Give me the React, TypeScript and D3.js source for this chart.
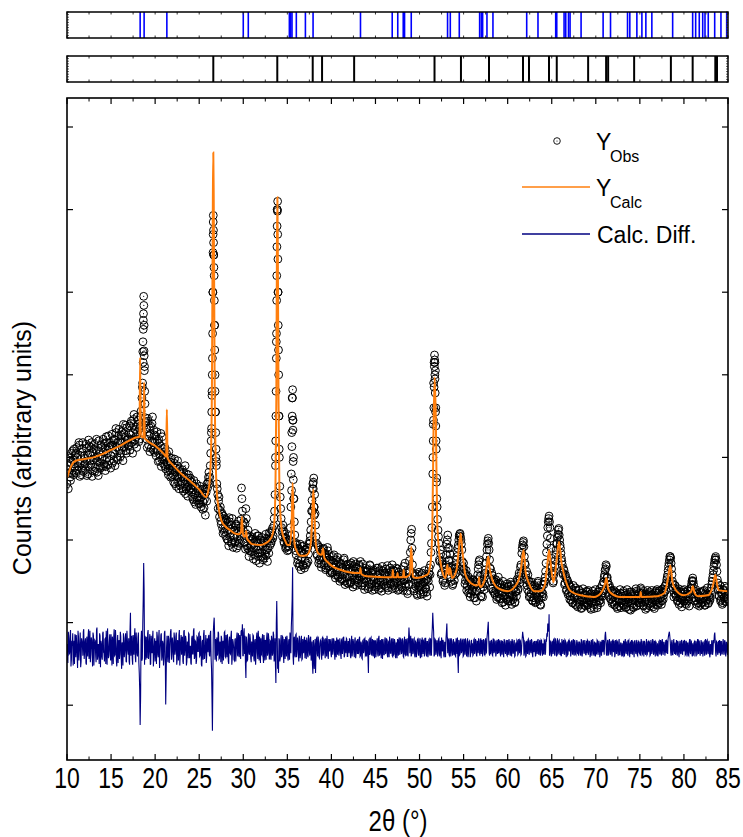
import React from "react";
import * as d3 from "d3";

// ---------------- DATA ----------------
const X_MIN = 10;
const X_MAX = 85;
const xTickValues = [10, 15, 20, 25, 30, 35, 40, 45, 50, 55, 60, 65, 70, 75, 80, 85];
const xTickLabels = ["10", "15", "20", "25", "30", "35", "40", "45", "50", "55", "60", "65", "70", "75", "80", "85"];
const yTickValues = [0, 100, 200, 300, 400, 500, 600, 700];

// Observed intensities on a uniform 2θ grid (start 10°, step 0.1°)
const OBS_START = 10;
const OBS_STEP = 0.1;
const obsY = [
  268, 290, 281, 299, 272, 305, 284, 297, 310, 288,
  281, 312, 300, 289, 315, 293, 279, 306, 318, 290,
  302, 285, 311, 296, 280, 314, 305, 291, 318, 284,
  297, 316, 288, 309, 282, 301, 320, 294, 287, 312,
  300, 322, 292, 311, 289, 318, 305, 326, 296, 313,
  302, 328, 315, 296, 321, 309, 330, 300, 318, 334,
  320, 305, 331, 318, 340, 312, 325, 308, 336, 322,
  315, 338, 327, 344, 318, 330, 352, 321, 337, 312,
  331, 345, 322, 338, 356, 372, 428, 495, 410, 348,
  335, 312, 344, 326, 307, 338, 320, 349, 309, 327,
  318, 302, 331, 309, 322, 296, 314, 289, 325, 300,
  297, 312, 286, 305, 291, 279, 300, 284, 294, 277,
  289, 270, 298, 282, 265, 290, 276, 262, 286, 271,
  268, 285, 259, 276, 290, 262, 271, 253, 279, 266,
  275, 258, 266, 249, 272, 255, 243, 268, 251, 259,
  248, 265, 240, 256, 237, 262, 249, 230, 258, 268,
  270, 282, 276, 305, 335, 420, 593, 520, 380, 300,
  268, 255, 247, 228, 240, 219, 231, 208, 226, 214,
  205, 224, 211, 199, 227, 208, 218, 196, 215, 203,
  212, 198, 217, 204, 193, 210, 200, 215, 263, 235,
  212, 196, 220, 238, 207, 190, 203, 187, 199, 192,
  186, 201, 190, 182, 198, 188, 205, 180, 193, 184,
  200, 185, 193, 178, 197, 188, 181, 202, 190, 184,
  193, 208, 199, 214, 205, 226, 255, 350, 520, 610,
  430, 300, 252, 226, 210, 218, 198, 207, 190, 201,
  187, 199, 192, 205, 240, 330, 382, 300, 222, 195,
  182, 194, 176, 189, 171, 185, 178, 192, 169, 183,
  175, 188, 172, 190, 183, 196, 205, 222, 248, 268,
  275, 255, 218, 196, 181, 192, 176, 188, 171, 185,
  178, 190, 172, 184, 166, 179, 187, 168, 176, 163,
  175, 160, 172, 182, 158, 170, 164, 179, 155, 168,
  158, 171, 153, 166, 176, 150, 162, 169, 148, 165,
  155, 170, 149, 163, 158, 174, 146, 160, 167, 152,
  165, 151, 168, 174, 156, 148, 163, 157, 144, 161,
  150, 164, 158, 143, 169, 152, 147, 162, 155, 140,
  161, 148, 157, 166, 145, 159, 150, 138, 163, 152,
  146, 158, 165, 150, 142, 160, 153, 147, 163, 170,
  157, 145, 151, 162, 149, 165, 155, 140, 158, 150,
  143, 156, 168, 151, 147, 160, 138, 153, 146, 162,
  200, 213, 170, 152, 141, 157, 148, 135, 150, 144,
  139, 152, 146, 160, 135, 149, 156, 142, 137, 153,
  150, 166, 158, 185, 215, 280, 390, 424, 405, 310,
  240, 212, 196, 174, 183, 160, 171, 152, 166, 148,
  170, 195, 206, 175, 190, 168, 150, 161, 147, 165,
  158, 170, 176, 185, 194, 205, 208, 200, 188, 168,
  172, 160, 151, 163, 145, 156, 140, 153, 135, 149,
  138, 152, 144, 130, 147, 139, 158, 170, 176, 141,
  132, 150, 143, 158, 147, 164, 180, 195, 202, 188,
  166, 150, 160, 141, 153, 136, 149, 139, 131, 147,
  135, 148, 129, 142, 137, 125, 144, 133, 140, 128,
  143, 131, 136, 126, 146, 134, 128, 141, 124, 137,
  132, 150, 141, 160, 152, 170, 184, 194, 199, 180,
  170, 152, 145, 158, 137, 149, 131, 145, 127, 138,
  130, 143, 125, 136, 148, 129, 134, 122, 141, 132,
  135, 146, 150, 162, 185, 205, 222, 229, 215, 190,
  168, 158, 150, 162, 175, 188, 196, 207, 214, 200,
  190, 178, 170, 158, 163, 148, 155, 140, 150, 136,
  145, 132, 127, 140, 124, 135, 130, 142, 121, 133,
  128, 139, 125, 131, 118, 136, 127, 121, 134, 124,
  137, 122, 130, 126, 118, 135, 124, 129, 117, 132,
  125, 134, 121, 130, 138, 127, 133, 145, 136, 149,
  158, 165, 168, 155, 146, 134, 142, 128, 139, 125,
  131, 122, 137, 126, 119, 133, 128, 120, 135, 124,
  127, 136, 121, 130, 118, 134, 125, 131, 116, 129,
  135, 122, 128, 119, 133, 126, 138, 121, 130, 124,
  130, 142, 128, 136, 120, 133, 125, 131, 118, 134,
  126, 137, 123, 129, 134, 119, 131, 127, 138, 122,
  128, 136, 124, 139, 130, 126, 141, 133, 137, 145,
  148, 155, 163, 172, 180, 178, 165, 150, 142, 136,
  145, 132, 138, 127, 141, 130, 124, 136, 128, 131,
  126, 137, 129, 122, 135, 131, 120, 138, 142, 150,
  154, 146, 130, 138, 127, 135, 124, 131, 128, 122,
  136, 125, 130, 139, 121, 133, 127, 135, 124, 131,
  130, 142, 150, 158, 168, 176, 180, 170, 152, 140,
  132, 145, 128, 137, 124, 140, 131, 126, 142, 129,
  135,
];

// Observed intensities at the half-step positions (10.05°, 10.15°, ...)
const obsY2 = [
  285, 262, 301, 276, 294, 281, 308, 279, 292, 303,
  305, 284, 293, 318, 277, 302, 287, 311, 283, 299,
  292, 316, 278, 303, 321, 289, 296, 312, 277, 306,
  310, 283, 299, 322, 295, 278, 308, 289, 315, 298,
  289, 306, 317, 284, 325, 299, 291, 312, 318, 287,
  315, 293, 306, 322, 290, 335, 312, 297, 326, 308,
  301, 327, 312, 296, 329, 318, 339, 305, 321, 314,
  329, 309, 341, 322, 305, 346, 316, 334, 325, 349,
  340, 319, 335, 350, 330, 385, 455, 460, 365, 342,
  322, 347, 315, 336, 328, 311, 341, 318, 333, 306,
  326, 308, 320, 295, 317, 303, 329, 298, 311, 292,
  306, 289, 301, 294, 283, 307, 290, 276, 299, 285,
  279, 293, 268, 287, 277, 296, 270, 283, 266, 280,
  277, 262, 282, 268, 256, 280, 264, 275, 260, 272,
  263, 270, 252, 261, 246, 265, 257, 248, 262, 244,
  257, 244, 252, 261, 246, 239, 255, 262, 247, 263,
  276, 268, 290, 320, 375, 500, 545, 460, 355, 290,
  262, 238, 252, 236, 223, 233, 214, 229, 210, 222,
  225, 201, 217, 193, 222, 204, 198, 226, 191, 212,
  197, 219, 190, 211, 223, 196, 207, 225, 250, 218,
  222, 198, 189, 226, 193, 212, 180, 205, 186, 201,
  203, 177, 196, 208, 175, 199, 184, 205, 172, 196,
  180, 203, 176, 199, 183, 207, 188, 174, 201, 209,
  201, 196, 211, 202, 217, 235, 300, 440, 600, 500,
  350, 265, 238, 215, 204, 211, 196, 203, 192, 198,
  193, 188, 200, 215, 280, 372, 345, 250, 206, 187,
  196, 172, 190, 168, 195, 164, 186, 170, 193, 166,
  188, 170, 190, 174, 195, 199, 212, 235, 262, 270,
  240, 232, 204, 183, 194, 172, 191, 178, 167, 186,
  189, 170, 183, 164, 178, 191, 169, 181, 160, 175,
  161, 180, 166, 172, 154, 176, 162, 157, 173, 150,
  172, 152, 167, 158, 178, 146, 165, 155, 171, 147,
  166, 148, 172, 156, 143, 168, 153, 171, 145, 159,
  148, 170, 155, 162, 145, 171, 152, 140, 166, 154,
  162, 141, 156, 170, 146, 160, 139, 164, 151, 145,
  143, 166, 151, 140, 163, 154, 142, 168, 149, 158,
  160, 144, 152, 169, 139, 156, 166, 146, 159, 141,
  163, 148, 142, 166, 153, 139, 161, 150, 145, 164,
  158, 139, 151, 172, 144, 162, 135, 155, 175, 185,
  208, 190, 160, 138, 156, 144, 159, 133, 148, 161,
  145, 134, 158, 147, 137, 163, 141, 152, 132, 156,
  159, 143, 170, 196, 240, 340, 415, 415, 360, 275,
  225, 204, 176, 188, 158, 174, 150, 167, 145, 162,
  182, 200, 190, 176, 183, 155, 166, 145, 160, 151,
  166, 160, 180, 190, 200, 207, 204, 195, 174, 162,
  165, 147, 159, 139, 152, 136, 150, 131, 146, 140,
  151, 130, 149, 137, 126, 152, 165, 174, 156, 132,
  147, 131, 152, 140, 160, 172, 188, 199, 196, 176,
  165, 141, 157, 138, 150, 134, 152, 128, 144, 155,
  129, 146, 138, 124, 150, 132, 143, 121, 139, 147,
  126, 144, 133, 149, 122, 140, 131, 146, 125, 138,
  152, 139, 156, 148, 167, 160, 190, 197, 192, 172,
  158, 162, 140, 151, 131, 146, 135, 149, 126, 141,
  145, 124, 139, 131, 150, 127, 142, 121, 137, 146,
  131, 150, 155, 172, 195, 215, 226, 222, 202, 178,
  162, 148, 158, 168, 182, 195, 203, 212, 206, 194,
  184, 174, 160, 165, 146, 158, 139, 152, 134, 147,
  128, 143, 136, 124, 145, 131, 122, 139, 133, 119,
  140, 122, 136, 117, 130, 141, 125, 133, 120, 138,
  121, 139, 127, 134, 116, 131, 138, 122, 129, 140,
  131, 118, 137, 126, 141, 124, 138, 132, 149, 155,
  163, 170, 154, 150, 132, 145, 129, 138, 123, 136,
  139, 121, 130, 136, 117, 134, 126, 140, 118, 132,
  122, 138, 127, 133, 119, 140, 124, 129, 137, 115,
  137, 126, 118, 135, 129, 141, 120, 132, 127, 136,
  124, 140, 135, 121, 138, 127, 116, 133, 139, 122,
  135, 120, 133, 139, 124, 130, 117, 136, 125, 140,
  121, 138, 129, 134, 122, 140, 128, 137, 144, 139,
  152, 158, 168, 176, 180, 172, 158, 147, 131, 145,
  134, 140, 126, 135, 122, 137, 129, 119, 139, 126,
  140, 123, 132, 126, 139, 127, 134, 141, 146, 151,
  150, 138, 126, 140, 122, 135, 130, 120, 137, 128,
  124, 138, 129, 121, 136, 127, 142, 123, 133, 127,
  138, 146, 154, 163, 172, 178, 176, 162, 148, 133,
  141, 126, 135, 122, 139, 130, 144, 125, 133, 128,
];

// Extra observed points measured more finely across the strong reflections
const obsPeakX = [
  18.58, 18.62, 18.64, 18.66, 18.68, 18.72, 18.74, 18.76, 18.78, 18.82,
  26.38, 26.42, 26.45, 26.48, 26.52, 26.55, 26.57, 26.58, 26.59, 26.62, 26.63, 26.65, 26.67, 26.72, 26.75, 26.77, 26.8, 26.85, 26.88, 26.92, 26.95,
  33.65, 33.68, 33.72, 33.75, 33.77, 33.79, 33.82, 33.84, 33.86, 33.88, 33.91, 33.93, 33.95, 33.97, 34.02, 34.05, 34.08,
  35.48, 35.52, 35.55, 35.58, 35.62, 35.64, 35.66, 35.68, 35.72,
  37.85, 37.95, 38.02, 38.05,
  51.52, 51.55, 51.58, 51.62, 51.65, 51.68, 51.72, 51.74, 51.76, 51.78, 51.82, 51.85, 51.88, 51.93, 51.96,
];
const obsPeakY = [
  390, 440, 415, 466, 474, 484, 429, 423, 405, 380,
  330, 355, 380, 400, 450, 500, 548, 570, 585, 575, 560, 545, 530, 490, 460, 430, 400, 355, 330, 310, 295,
  290, 320, 380, 420, 450, 490, 555, 580, 600, 598, 570, 540, 500, 460, 400, 350, 310,
  260, 313, 350, 372, 345, 333, 295, 273, 250,
  235, 262, 240, 230,
  300, 320, 345, 360, 385, 410, 418, 400, 395, 378, 355, 338, 320, 270, 250,
];

// Calculated profile (2θ, intensity)
const calcX = [
  10.0, 10.3, 10.6, 11.0, 12.0, 13.0, 14.0, 15.0, 16.0, 17.0, 17.8, 18.22, 18.3, 18.38, 18.5, 18.67, 18.75, 18.83,
  19.0, 20.0, 21.0, 21.25, 21.33, 21.41, 22.0, 23.0, 24.0, 25.0, 25.8, 26.0, 26.2, 26.35, 26.45, 26.55, 26.6,
  26.65, 26.75, 26.9, 27.0, 27.2, 27.5, 28.0, 28.5, 29.0, 29.5, 29.75, 29.85, 29.95, 30.1, 30.25, 30.33, 30.42,
  30.7, 31.0, 32.0, 32.5, 33.0, 33.3, 33.5, 33.65, 33.75, 33.82, 33.87, 33.92, 34.0, 34.1, 34.3, 34.5, 34.8,
  35.0, 35.3, 35.5, 35.6, 35.7, 35.85, 36.0, 36.5, 37.0, 37.4, 37.7, 37.85, 37.95, 38.05, 38.25, 38.5, 38.9,
  39.05, 39.2, 39.6, 40.0, 41.0, 42.0, 43.0, 43.22, 43.3, 43.38, 44.0, 46.0, 46.9, 46.97, 47.04, 47.43, 47.5,
  47.57, 48.13, 48.2, 48.27, 48.9, 49.06, 49.2, 49.3, 49.7, 50.9, 51.25, 51.45, 51.6, 51.72, 51.85, 52.0, 52.2,
  52.4, 52.95, 53.15, 53.3, 53.45, 53.7, 54.2, 54.45, 54.66, 54.85, 55.2, 55.8, 56.5, 56.68, 56.75, 56.82, 56.9,
  57.4, 57.65, 57.8, 57.95, 58.1, 58.4, 59.0, 60.0, 61.1, 61.5, 61.8, 62.05, 62.4, 63.0, 63.75, 64.2, 64.5,
  64.7, 64.95, 65.2, 65.55, 65.83, 66.1, 66.4, 67.16, 68.3, 69.8, 70.6, 71.0, 71.2, 71.4, 71.7, 72.8, 74.7,
  75.02, 75.1, 75.18, 77.0, 77.8, 78.2, 78.45, 78.7, 79.1, 80.0, 80.8, 81.0, 81.2, 81.6, 82.7, 83.3, 83.56,
  83.8, 84.0, 85.0,
];
const calcY = [
  275, 285, 292, 296, 298, 300, 304, 309, 314, 320, 324, 325, 421, 325, 325, 324, 391, 323,
  321, 314, 304, 301, 358, 299, 291, 280, 271, 261, 252, 258, 273, 309, 394, 612, 669,
  612, 394, 285, 257, 239, 224, 216, 212, 208, 207, 210, 228, 208, 204, 205, 211, 202,
  198, 195, 194, 196, 200, 206, 218, 261, 370, 551, 615, 551, 370, 261, 218, 206, 198,
  194, 194, 224, 269, 224, 193, 188, 181, 181, 184, 200, 236, 261, 236, 194, 184, 182,
  190, 178, 173, 169, 164, 161, 160, 160, 166, 159, 156, 155, 155, 164, 155, 155, 160,
  155, 155, 164, 155, 158, 192, 160, 155, 154, 158, 172, 212, 345, 397, 345, 224, 188,
  172, 154, 170, 158, 166, 154, 164, 188, 208, 188, 158, 148, 145, 146, 155, 146, 143,
  152, 170, 180, 166, 158, 148, 141, 138, 148, 164, 188, 160, 148, 138, 138, 145, 170,
  188, 164, 149, 175, 198, 173, 158, 138, 133, 131, 136, 145, 154, 141, 136, 131, 131,
  131, 137, 131, 132, 136, 154, 169, 149, 139, 133, 137, 144, 136, 132, 133, 145, 158,
  144, 139, 138,
];

// Difference curve (Obs − Calc): values at the grid points and at the half-step points
const DIFF_OFFSET = 69;
const diffY = [
  5, -18, 12, -6, 22, -14, 3, -21, 9, 17,
  -11, 6, -24, 14, -3, 19, -16, 8, -9, 23,
  -5, 12, -20, 4, 16, -13, 21, -7, 10, -22,
  15, -2, 9, -17, 25, -10, 2, 18, -23, 6,
  -14, 20, -6, 11, -19, 3, 24, -12, 7, -4,
  17, -21, 8, 13, -9, 22, -15, 1, -18, 10,
  -7, 14, -25, 5, 18, -11, 9, -16, 21, -3,
  12, -20, 43, 4, -13, 16, -8, 24, -17, 6,
  -10, 19, -30, -93, 10, -15, 30, 103, -20, 8,
  14, -12, 22, -5, 17, -19, 7, 11, -22, 3,
  -16, 9, 20, -8, 13, -24, 4, 18, -11, 6,
  -13, 21, -68, 2, -9, 15, -18, 10, 23, -6,
  7, -17, 12, -3, 19, -14, 5, 16, -21, 9,
  -8, 14, -19, 22, -2, 11, -16, 6, 18, -12,
  3, -20, 15, -7, 24, -11, 8, -15, 13, -4,
  19, -9, 6, -22, 10, 17, -13, 2, -18, 12,
  -5, 16, -10, 21, -25, -100, 20, 37, -14, 8,
  13, -7, 18, -12, 4, 15, -19, 9, -3, 20,
  -11, 5, 17, -16, 8, -6, 14, -20, 11, 2,
  -15, 12, -4, 19, -10, 7, 16, -13, 22, 29,
  -9, 24, 15, -36, 6, -14, 18, -8, 11, -17,
  3, 16, -12, 9, -20, 13, -5, 21, -15, 7,
  12, -8, 17, -18, 4, 10, -14, 19, -6, 11,
  -13, 8, 15, -9, 20, -16, 12, -42, 57, -25,
  -30, 10, -12, 16, -7, 13, -18, 5, 14, -10,
  8, -15, 11, 19, -6, 40, 98, -20, 14, -11,
  17, -4, 9, -16, 12, -8, 15, -13, 6, 10,
  -12, 7, 13, -9, 16, -5, 11, -15, 8, -31,
  4, -10, -30, 12, -7, 14, -11, 6, 9, -14,
  13, -6, 10, -12, 7, 15, -9, 11, -4, 8,
  -11, 12, -3, 9, -14, 6, 13, -8, 10, -5,
  7, -13, 11, -2, 14, -9, 5, 12, -10, 8,
  -6, 10, -12, 15, -4, 8, -11, 13, -7, 9,
  11, -5, 14, -9, 6, -13, 10, -3, 12, -8,
  -10, 7, -30, 11, -6, 13, -9, 4, 10, -12,
  9, -4, 12, -10, 15, -7, 5, 11, -13, 6,
  -8, 13, -5, 10, -11, 7, 14, -6, 9, -9,
  12, -7, 8, -12, 5, 11, -9, 13, -4, 10,
  -5, 9, -11, 14, -8, 6, 12, -10, 25, -6,
  15, -8, 10, -5, 12, -11, 7, -3, 11, -9,
  6, -12, 9, 13, -7, 10, -4, 12, -10, 8,
  -6, 11, -9, 5, 14, 43, 20, -8, 10, -5,
  9, -7, 12, -10, 6, 13, -4, 8, -11, 7,
  11, 30, -6, 10, -9, 7, 12, -5, 9, -8,
  8, -10, 6, 13, -30, 9, -7, 11, -4, 10,
  -9, 5, 12, -6, 9, -11, 8, 4, -7, 10,
  6, -8, 11, -4, 9, -10, 7, 12, -5, 8,
  -7, 10, -3, 9, -8, 12, -5, 18, 32, -6,
  9, -5, 7, -9, 11, -4, 8, -7, 10, -3,
  -6, 8, -10, 5, 9, -7, 11, -4, 6, -8,
  10, -5, 7, -9, 4, 11, -6, 8, -10, 5,
  -4, 9, -7, 6, 10, -8, 5, 20, 12, -6,
  7, -9, 5, 10, -6, 8, -4, 11, -7, 6,
  -5, 8, -8, 4, 9, -6, 7, -9, 10, -4,
  6, -7, 9, -5, 8, 14, 25, 41, -6, 7,
  -8, 5, 10, -6, 12, -4, 8, -7, 9, -5,
  7, -9, 4, 8, -6, 10, -5, 6, -8, 9,
  -4, 7, -6, 9, -8, 5, 10, -7, 4, -5,
  8, -5, 6, -9, 7, -4, 9, -6, 5, -8,
  -6, 9, -4, 7, -7, 10, -5, 6, -9, 4,
  7, -6, 9, -4, 5, -8, 6, 10, -5, 8,
  4, 20, -7, 6, -9, 8, -4, 7, -6, 9,
  -5, 8, -7, 4, 9, -6, 7, -8, 5, -4,
  6, -9, 5, 8, -5, 7, -7, 9, -4, 6,
  -7, 5, 8, -6, 9, -4, 6, -8, 7, -5,
  8, -4, 6, -7, 5, 9, -6, 4, -8, 7,
  -5, 7, -8, 6, -4, 9, -6, 5, 8, -7,
  6, -5, 9, -7, 4, 8, -6, 7, -4, 5,
  -6, 8, 11, 18, 14, -5, 7, -8, 6, -4,
  7, -6, 5, 9, -7, 4, -5, 8, -6, 6,
  -4, 8, -7, 6, 5, -8, 7, -5, 9, -6,
  6, -5, 8, -4, 7, -7, 5, 9, -6, 4,
  -7, 6, -4, 8, -6, 5, 9, -5, 7, -8,
  5, -7, 9, -4, 6, 19, -6, 8, -5, 7,
  -6, 4, 8, -7, 5, -4, 9, -6, 7, -5,
  6,
];
const diffY2 = [
  -12, 20, -7, 15, -22, 9, 18, -4, -19, 11,
  16, -9, 21, -15, 7, -23, 12, 3, 20, -13,
  8, -18, 14, -10, 23, -6, -17, 13, -2, 19,
  -21, 10, -8, 22, -14, 5, -19, 15, 9, -11,
  18, -5, -16, 12, 21, -20, 6, -9, 17, -15,
  -3, 14, -19, 23, -8, 11, -22, 16, 5, -13,
  20, -12, 7, -21, 13, -4, 18, -17, 10, -8,
  -16, 22, -9, 15, -20, 8, 14, -11, 19, -7,
  13, -17, -50, -60, 21, -12, 60, 70, 15, -14,
  -9, 18, -13, 10, -20, 15, -6, 21, -10, 12,
  7, -19, 14, -11, 22, -8, 16, -15, 9, -21,
  18, -10, -35, 15, -17, 11, -7, 20, -14, 13,
  -12, 19, -8, 14, -20, 10, -15, 22, -6, 16,
  11, -16, 20, -9, 15, -21, 8, -12, 17, -5,
  -18, 12, -7, 21, -13, 9, -19, 14, -4, 18,
  -10, 15, -20, 8, -14, 22, -6, 16, -11, 9,
  14, -8, 17, -12, -60, -40, 30, 15, 11, -16,
  -9, 20, -13, 8, -17, 12, 6, -15, 19, -10,
  16, -11, 9, -19, 14, -7, 21, -12, 8, -14,
  10, -16, 13, -8, 18, -11, 5, 20, 15, -9,
  19, -7, -20, 14, -15, 10, -6, 17, -12, 8,
  -10, 15, -16, 11, -7, 19, -13, 9, 14, -18,
  -7, 13, -11, 16, -15, 8, 12, -9, 18, -13,
  9, -14, 11, -6, 16, -10, -20, 30, 20, -15,
  12, -16, 9, -11, 14, -8, 11, -13, 7, 15,
  -12, 9, -14, 10, 25, 60, -10, 12, -9, 16,
  -11, 13, -7, 15, -12, 9, -14, 11, -6, 14,
  10, -13, 8, -11, 12, -9, 14, -7, -20, 10,
  -25, 11, -8, 13, -10, 7, -12, 10, -7, 12,
  -9, 11, -6, 12, -10, 8, -13, 9, 11, -7,
  10, -8, 12, -6, 9, -11, 7, 10, -9, 12,
  -8, 10, -7, 12, -11, 9, -6, 11, -10, 8,
  12, -9, 7, -10, 11, -6, 10, -12, 8, -7,
  -7, 11, -10, 8, -12, 9, -6, 11, -9, 10,
  9, -12, 10, -8, 12, -7, 11, -10, 6, 9,
  -11, 8, -7, 12, -9, 10, -12, 7, 11, -8,
  10, -7, 12, -9, 8, -11, 9, -6, 12, -10,
  -8, 11, -10, 7, -12, 9, 10, -8, 11, -7,
  12, -10, 8, -7, 11, -9, -6, 10, 15, 8,
  -10, 12, -7, 11, -9, 8, -11, 10, -6, 12,
  -8, 10, -11, 7, 9, -10, 12, -7, 8, -11,
  10, -7, 12, -9, 25, 30, -10, 11, -8, 9,
  -10, 11, -6, 9, -12, 8, 10, -9, 7, -11,
  20, 10, 11, -8, 12, -10, 7, -9, 11, -6,
  -9, 12, -7, -15, 10, -8, 11, -6, 9, -10,
  11, -8, 7, -10, 12, -7, 9, -11, 8, -6,
  -9, 10, -7, 11, -8, 9, -6, 10, -9, 12,
  8, -10, 11, -7, 9, -6, 12, 25, 10, -9,
  -7, 10, -8, 11, -6, 9, -10, 8, -7, 11,
  9, -6, 10, -8, 7, -11, 8, -7, 10, -9,
  -8, 11, -7, 9, -10, 8, -6, 10, -9, 7,
  10, -8, 11, -6, 9, -7, 12, 15, -9, 8,
  -10, 9, -7, 11, -8, 10, -6, 9, -11, 7,
  8, -10, 9, -7, 11, -8, 10, -6, 9, -9,
  -7, 10, -8, 11, 18, 30, 20, -9, 8, -10,
  9, -7, 11, -9, 8, -10, 12, -6, 10, -8,
  -9, 11, -7, 10, -8, 9, -11, 8, -7, 10,
  8, -10, 9, -6, 11, -9, 7, -8, 10, -7,
  -9, 8, -7, 11, -10, 9, -6, 10, -8, 9,
  10, -8, 9, -11, 7, -9, 11, -7, 8, -10,
  -7, 10, -8, 9, -11, 8, -9, 7, 10, -8,
  15, 12, -9, 10, -7, 11, -8, 9, -10, 8,
  9, -11, 10, -7, 8, -9, 11, -8, 7, -10,
  -8, 9, -10, 11, -7, 8, -9, 10, -11, 7,
  10, -8, 7, -11, 9, -7, 10, -9, 8, -6,
  -9, 11, -8, 9, -10, 7, -8, 11, -7, 9,
  8, -9, 10, -7, 11, -8, 9, -10, 7, -9,
  -10, 8, -7, 10, -9, 11, -8, 7, -9, 10,
  9, -7, 15, 20, 8, -9, 10, -8, 11, -7,
  -8, 10, -9, 7, -11, 9, -7, 10, -8, 9,
  10, -8, 9, -10, 7, -9, 11, -7, 8, -10,
  -9, 7, -10, 9, -8, 11, -7, 8, -9, 10,
  8, -10, 7, -9, 11, -8, 10, -7, 9, -11,
  -7, 9, -8, 10, 16, 9, -10, 7, -8, 9,
  10, -9, 8, -7, 11, -8, 9, -10, 7, -8,
];

// Bragg reflection positions (2θ) of the two phases
const phase1Reflections = [
  18.3, 18.75, 21.33, 30.0, 30.57, 35.23, 35.38, 35.53, 36.02, 37.05, 37.92, 43.3, 46.9, 47.53, 48.15, 48.3,
  49.06, 53.18, 53.49, 54.51, 56.82, 57.01, 57.16, 57.65, 58.33, 62.16, 63.44, 65.45, 65.57, 66.4, 66.59,
  66.9, 67.08, 68.33, 70.83, 71.67, 73.6, 73.86, 74.66, 75.23, 75.68, 76.36, 78.72, 80.99, 81.33, 81.74,
  82.13, 82.39, 82.76, 83.49, 84.2, 84.85,
];
const phase2Reflections = [
  26.6, 33.86, 37.88, 38.94, 42.58, 51.7, 54.7, 57.88, 61.74, 62.42, 64.69, 65.57, 69.13, 71.17, 71.4,
  74.35, 78.52, 80.99, 83.56, 83.75,
];

const legendLabels = [
  { main: "Y", sub: "Obs" },
  { main: "Y", sub: "Calc" },
  { main: "Calc. Diff.", sub: "" },
];

// ---------------- CHART ----------------
const W = 743;
const H = 837;
const FONT = "'Liberation Sans', Arial, sans-serif";

export default function App() {
  const left = 67, right = 728, top = 98, bottom = 760;
  const x = d3.scaleLinear().domain([X_MIN, X_MAX]).range([left, right]);
  const y = d3.scaleLinear().domain([0, 700]).range([705.2, 127]);

  const obsPts: [number, number][] = [];
  obsY.forEach((v, i) => obsPts.push([OBS_START + i * OBS_STEP, v]));
  obsY2.forEach((v, i) => obsPts.push([OBS_START + OBS_STEP / 2 + i * OBS_STEP, v]));
  obsPeakX.forEach((px, i) => obsPts.push([px, obsPeakY[i]]));

  const r = 3.9;
  let circlePath = "";
  let dotPath = "";
  obsPts.forEach(([a, b]) => {
    const cx = x(a), cy = y(b);
    circlePath += `M${(cx + r).toFixed(2)},${cy.toFixed(2)}a${r},${r} 0 1,0 ${-2 * r},0a${r},${r} 0 1,0 ${2 * r},0`;
    dotPath += `M${(cx + 0.6).toFixed(2)},${cy.toFixed(2)}a0.6,0.6 0 1,0 -1.2,0a0.6,0.6 0 1,0 1.2,0`;
  });

  const calcPath = d3
    .line<number>()
    .x((_, i) => x(calcX[i]))
    .y((d) => y(d))
    .curve(d3.curveMonotoneX)(calcY) as string;

  const diffPts: [number, number][] = [];
  diffY.forEach((v, i) => {
    diffPts.push([OBS_START + i * OBS_STEP, v]);
    if (i < diffY2.length) diffPts.push([OBS_START + OBS_STEP / 2 + i * OBS_STEP, diffY2[i]]);
  });
  const diffPath = d3
    .line<[number, number]>()
    .x((d) => x(d[0]))
    .y((d) => y(d[1] + DIFF_OFFSET))(diffPts) as string;

  const minorTicks = d3.range(12.5, 85, 5);

  const panels = [
    { y0: 12, y1: 38, ticks: phase1Reflections, color: "#0000ff", w: 1.6 },
    { y0: 56, y1: 82, ticks: phase2Reflections, color: "#000000", w: 2 },
  ];

  return (
    <svg
      width={W}
      height={H}
      style={{ position: "absolute", left: 0, top: 0, background: "#fff" }}
      fontFamily={FONT}
    >
      <rect x={0} y={0} width={W} height={H} fill="#fff" />
      {/* reflection panels */}
      {panels.map((p, pi) => {
        const py = d3.scaleLinear().domain([0, 10]).range([p.y1, p.y0]);
        return (
          <g key={pi}>
            {p.ticks.map((t, i) => (
              <line key={i} x1={x(t)} x2={x(t)} y1={p.y0} y2={p.y1} stroke={p.color} strokeWidth={p.w} />
            ))}
            {xTickValues.concat(minorTicks).map((t, i) => (
              <g key={"t" + i}>
                <line x1={x(t)} x2={x(t)} y1={p.y0} y2={p.y0 + 2.5} stroke="#333" strokeWidth={1} />
                <line x1={x(t)} x2={x(t)} y1={p.y1} y2={p.y1 - 2.5} stroke="#333" strokeWidth={1} />
              </g>
            ))}
            {d3.range(0, 11).map((k) => (
              <g key={"k" + k}>
                <line x1={left} x2={left + 2} y1={py(k)} y2={py(k)} stroke="#333" strokeWidth={0.8} />
                <line x1={right} x2={right - 2} y1={py(k)} y2={py(k)} stroke="#333" strokeWidth={0.8} />
              </g>
            ))}
            <rect x={left} y={p.y0} width={right - left} height={p.y1 - p.y0} fill="none" stroke="#000" strokeWidth={1.5} />
          </g>
        );
      })}

      {/* main plot */}
      <defs>
        <clipPath id="plotClip">
          <rect x={left} y={top} width={right - left} height={bottom - top} />
        </clipPath>
      </defs>
      <g clipPath="url(#plotClip)">
        <path d={circlePath} fill="none" stroke="#000" strokeWidth={1} />
        <path d={dotPath} fill="#000" stroke="none" />
        <path d={calcPath} fill="none" stroke="#ff7f0e" strokeWidth={2} />
        <path d={diffPath} fill="none" stroke="#000080" strokeWidth={1.1} />
      </g>

      {/* axes ticks */}
      {xTickValues.map((t, i) => (
        <g key={"mx" + i}>
          <line x1={x(t)} x2={x(t)} y1={bottom} y2={bottom - 6} stroke="#000" strokeWidth={1.2} />
          <line x1={x(t)} x2={x(t)} y1={top} y2={top + 6} stroke="#000" strokeWidth={1.2} />
        </g>
      ))}
      {minorTicks.map((t, i) => (
        <g key={"nx" + i}>
          <line x1={x(t)} x2={x(t)} y1={bottom} y2={bottom - 3.5} stroke="#000" strokeWidth={1} />
          <line x1={x(t)} x2={x(t)} y1={top} y2={top + 3.5} stroke="#000" strokeWidth={1} />
        </g>
      ))}
      {yTickValues.map((t, i) => (
        <g key={"my" + i}>
          <line x1={left} x2={left + 6} y1={y(t)} y2={y(t)} stroke="#000" strokeWidth={1.2} />
          <line x1={right} x2={right - 6} y1={y(t)} y2={y(t)} stroke="#000" strokeWidth={1.2} />
        </g>
      ))}
      <rect x={left} y={top} width={right - left} height={bottom - top} fill="none" stroke="#000" strokeWidth={1.6} />

      {/* tick labels */}
      {xTickValues.map((t, i) => (
        <text
          key={"lx" + i}
          transform={`translate(${x(t)},788) scale(1,1.25)`}
          fontSize={23}
          textAnchor="middle"
          fill="#000"
        >
          {xTickLabels[i]}
        </text>
      ))}

      {/* axis titles */}
      <text transform="translate(398,831) scale(1,1.2)" fontSize={24} textAnchor="middle" fill="#000">
        2θ (°)
      </text>
      <text transform="translate(31,448) rotate(-90)" fontSize={25} textAnchor="middle" fill="#000">
        Counts (arbitrary units)
      </text>

      {/* legend */}
      <g>
        <circle cx={557} cy={141} r={3.3} fill="none" stroke="#000" strokeWidth={0.9} />
        <circle cx={557} cy={141} r={0.6} fill="#000" />
        <text x={596} y={150} fontSize={23} fill="#000">
          {legendLabels[0].main}
        </text>
        <text x={610} y={162} fontSize={16} fill="#000">
          {legendLabels[0].sub}
        </text>
        <line x1={522} x2={590} y1={187} y2={187} stroke="#ff7f0e" strokeWidth={1.5} />
        <text x={596} y={196} fontSize={23} fill="#000">
          {legendLabels[1].main}
        </text>
        <text x={610} y={208} fontSize={16} fill="#000">
          {legendLabels[1].sub}
        </text>
        <line x1={522} x2={590} y1={234} y2={234} stroke="#000080" strokeWidth={1.5} />
        <text x={597} y={243} fontSize={23} fill="#000">
          {legendLabels[2].main}
        </text>
      </g>
    </svg>
  );
}
